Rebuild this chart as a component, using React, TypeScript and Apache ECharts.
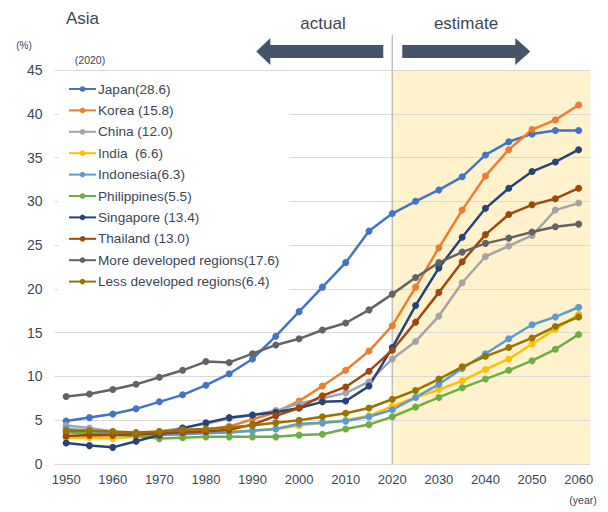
import React, { useEffect, useRef } from "react";
import * as echarts from "echarts";

const years = ["1950","1955","1960","1965","1970","1975","1980","1985","1990","1995","2000","2005","2010","2015","2020","2025","2030","2035","2040","2045","2050","2055","2060"];

const japan = [4.9, 5.3, 5.7, 6.3, 7.1, 7.9, 9.0, 10.3, 12.0, 14.6, 17.4, 20.2, 23.0, 26.6, 28.6, 30.0, 31.3, 32.8, 35.3, 36.8, 37.7, 38.1, 38.1];
const korea = [3.0, 3.2, 3.3, 3.4, 3.5, 3.7, 3.9, 4.3, 5.1, 5.9, 7.2, 8.9, 10.7, 12.9, 15.8, 20.2, 24.7, 29.0, 32.9, 35.9, 38.2, 39.3, 41.0];
const china = [4.4, 4.1, 3.7, 3.4, 3.7, 4.1, 4.6, 5.2, 5.6, 6.1, 6.9, 7.5, 8.1, 9.4, 12.0, 14.0, 16.9, 20.7, 23.7, 24.9, 26.1, 29.0, 29.8];
const india = [3.0, 3.0, 2.9, 3.1, 3.3, 3.4, 3.6, 3.7, 3.8, 4.0, 4.4, 4.7, 5.0, 5.5, 6.6, 7.6, 8.5, 9.5, 10.8, 12.0, 13.7, 15.4, 17.1];
const indonesia = [4.0, 3.8, 3.5, 3.3, 3.3, 3.4, 3.5, 3.6, 3.8, 4.0, 4.6, 4.7, 4.9, 5.4, 6.2, 7.6, 9.1, 10.9, 12.6, 14.3, 15.9, 16.8, 17.9];
const philippines = [3.6, 3.5, 3.3, 3.2, 2.9, 3.0, 3.1, 3.1, 3.1, 3.1, 3.3, 3.4, 4.0, 4.5, 5.4, 6.5, 7.6, 8.7, 9.7, 10.7, 11.8, 13.1, 14.8];
const singapore = [2.4, 2.1, 1.9, 2.6, 3.3, 4.1, 4.7, 5.3, 5.6, 5.9, 6.4, 7.1, 7.2, 8.9, 13.3, 18.1, 22.4, 25.9, 29.2, 31.5, 33.4, 34.5, 35.9];
const thailand = [3.2, 3.3, 3.3, 3.4, 3.5, 3.6, 3.7, 3.9, 4.5, 5.5, 6.4, 7.8, 8.8, 10.6, 13.0, 16.2, 19.6, 23.1, 26.2, 28.5, 29.6, 30.3, 31.5];
const moreDeveloped = [7.7, 8.0, 8.5, 9.1, 9.9, 10.7, 11.7, 11.6, 12.6, 13.6, 14.3, 15.3, 16.1, 17.6, 19.4, 21.3, 23.0, 24.2, 25.2, 25.8, 26.5, 27.1, 27.4];
const lessDeveloped = [3.8, 3.8, 3.7, 3.6, 3.7, 3.9, 4.0, 4.2, 4.4, 4.7, 5.0, 5.4, 5.8, 6.4, 7.4, 8.4, 9.7, 11.1, 12.3, 13.3, 14.4, 15.7, 16.8];

const seriesNames = [
  "Japan(28.6)",
  "Korea (15.8)",
  "China (12.0)",
  "India  (6.6)",
  "Indonesia(6.3)",
  "Philippines(5.5)",
  "Singapore (13.4)",
  "Thailand (13.0)",
  "More developed regions(17.6)",
  "Less developed regions(6.4)",
];
const seriesData = [japan, korea, china, india, indonesia, philippines, singapore, thailand, moreDeveloped, lessDeveloped];
const seriesColors = ["#4472c4", "#ed7d31", "#a5a5a5", "#ffc000", "#5b9bd5", "#70ad47", "#264478", "#9e480e", "#636363", "#997300"];

const yTicks = { min: 0, max: 45, interval: 5 };

const FONT = "'Liberation Sans', Arial, sans-serif";
const TEXT = "#3c4657";

export default function App() {
  const ref = useRef<HTMLDivElement>(null);
  useEffect(() => {
    const chart = echarts.init(ref.current!, null, { renderer: "svg" });
    const gridLeft = 54.5;
    const gridRight = 17.7;
    const option: any = {
      animation: false,
      backgroundColor: "#ffffff",
      textStyle: { fontFamily: FONT },
      grid: { left: gridLeft, right: gridRight, top: 70, bottom: 48, containLabel: false },
      legend: {
        orient: "vertical",
        left: 58,
        top: 74,
        padding: [8, 10, 8, 10],
        backgroundColor: "#ffffff",
        itemWidth: 27,
        itemHeight: 7,
        itemGap: 7.4,
        textStyle: { fontSize: 13.6, color: TEXT, fontFamily: FONT, padding: [0, 0, 0, -3] },
        data: seriesNames,
      },
      xAxis: {
        type: "category",
        data: years,
        boundaryGap: true,
        axisLine: { show: false },
        axisTick: { show: false },
        axisLabel: { interval: 1, color: TEXT, fontSize: 13, margin: 9 },
        splitLine: { show: false },
      },
      yAxis: {
        type: "value",
        min: yTicks.min,
        max: yTicks.max,
        interval: yTicks.interval,
        axisLine: { show: false },
        axisTick: { show: false },
        axisLabel: { color: TEXT, fontSize: 14, margin: 12 },
        splitLine: { lineStyle: { color: "#d9d9d9", width: 1 } },
      },
      series: seriesNames.map((name, i) => ({
        name,
        type: "line",
        data: seriesData[i],
        symbol: "circle",
        symbolSize: 7,
        lineStyle: { width: 2.5, color: seriesColors[i] },
        itemStyle: { color: seriesColors[i] },
        z: 3,
      })),
    };
    chart.setOption(option);

    const x2020 = chart.convertToPixel({ xAxisIndex: 0 }, "2020") as number;
    const yTop = chart.convertToPixel({ yAxisIndex: 0 }, yTicks.max) as number;
    const yBot = chart.convertToPixel({ yAxisIndex: 0 }, yTicks.min) as number;
    const xRight = 608 - gridRight;
    const arrowColor = "#44546a";

    const txt = (text: string, x: number, y: number, size: number, align = "center") => ({
      type: "text",
      x,
      y,
      z: 5,
      style: {
        text,
        fill: TEXT,
        font: `${size}px ${FONT}`,
        textAlign: align,
        textVerticalAlign: "middle",
        align,
        verticalAlign: "middle",
      },
    });

    chart.setOption({
      graphic: [
        {
          type: "rect",
          z: -1,
          shape: { x: x2020, y: yTop, width: xRight - x2020, height: yBot - yTop },
          style: { fill: "#fff2cc" },
          silent: true,
        },
        {
          type: "line",
          z: 1,
          shape: { x1: x2020, y1: 35, x2: x2020, y2: yBot },
          style: { stroke: "#bfbfbf", lineWidth: 1.5 },
          silent: true,
        },
        {
          type: "polygon",
          z: 5,
          shape: {
            points: [
              [x2020 - 136, 51.5],
              [x2020 - 122, 38],
              [x2020 - 122, 45],
              [x2020 - 9, 45],
              [x2020 - 9, 58],
              [x2020 - 122, 58],
              [x2020 - 122, 65],
            ],
          },
          style: { fill: arrowColor },
        },
        {
          type: "polygon",
          z: 5,
          shape: {
            points: [
              [x2020 + 10, 45],
              [x2020 + 123, 45],
              [x2020 + 123, 38],
              [x2020 + 138, 51.5],
              [x2020 + 123, 65],
              [x2020 + 123, 58],
              [x2020 + 10, 58],
            ],
          },
          style: { fill: arrowColor },
        },
        txt("Asia", 66, 18, 17, "left"),
        txt("actual", 323, 23.5, 17),
        txt("estimate", 466, 23.5, 17),
        txt("(%)", 24, 45, 10),
        txt("(2020)", 90, 60, 10.5),
        txt("(year)", 583, 500, 10.5),
      ],
    });

    return () => chart.dispose();
  }, []);
  return <div ref={ref} style={{ position: "fixed", left: 0, top: 0, width: 608, height: 512 }} />;
}
